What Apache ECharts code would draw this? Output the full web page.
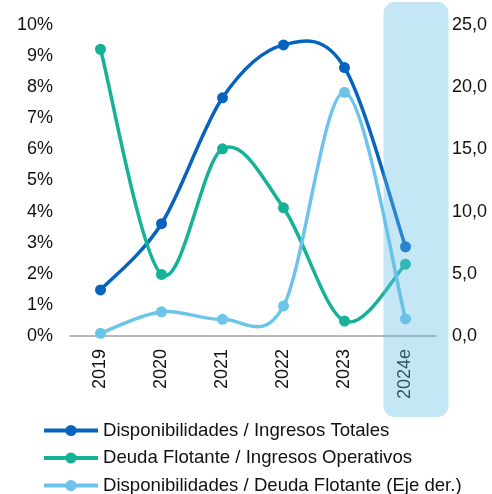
<!DOCTYPE html>
<html><head><meta charset="utf-8">
<script src="https://cdn.jsdelivr.net/npm/echarts@6/dist/echarts.min.js"></script>
<style>html,body{margin:0;padding:0;background:#fff}#c{width:492px;height:494px}</style>
</head><body><div id="c"></div>
<script>
const categories = ['2019','2020','2021','2022','2023','2024e'];
const dispIngTot = [1.48, 3.61, 7.66, 9.36, 8.63, 2.87];
const deudaIngOp = [9.22, 1.98, 6.02, 4.12, 0.48, 2.31];
const dispDeuda = [0.22, 1.95, 1.34, 2.41, 19.59, 1.37];
const seriesNames = ['Disponibilidades / Ingresos Totales','Deuda Flotante / Ingresos Operativos','Disponibilidades / Deuda Flotante (Eje der.)'];
const colors = ['#0663be','#15b298','#6cc4eb'];
const font = 'Liberation Sans, Arial, sans-serif';

const chart = echarts.init(document.getElementById('c'));
function pts(name, data, color, yi){
  return {name, type:'line', data, yAxisIndex: yi, symbol:'circle', symbolSize: 11,
    lineStyle:{width:3.5,color,opacity:0}, itemStyle:{color}, z: 4};
}
// Catmull-Rom smoothed segments drawn through the axes' scales
function curve(data, color, yi){
  return {type:'custom', yAxisIndex: yi, z: 3, silent:true,
    data: data.map((v,i)=>[i,v]),
    renderItem(params, api){
      const i = params.dataIndex, n = data.length;
      if (i >= n-1) return null;
      const P = k => api.coord([Math.max(0,Math.min(n-1,k)), data[Math.max(0,Math.min(n-1,k))]]);
      const p0 = P(i-1), p1 = P(i), p2 = P(i+1), p3 = P(i+2);
      const t = 1/6;
      const c1 = [p1[0]+(p2[0]-p0[0])*t, p1[1]+(p2[1]-p0[1])*t];
      const c2 = [p2[0]-(p3[0]-p1[0])*t, p2[1]-(p3[1]-p1[1])*t];
      return {type:'bezierCurve', shape:{x1:p1[0],y1:p1[1],x2:p2[0],y2:p2[1],cpx1:c1[0],cpy1:c1[1],cpx2:c2[0],cpy2:c2[1]},
        style:{stroke:color,lineWidth:3.5,fill:null,lineCap:'round'}};
    }};
}
chart.setOption({
  animation:false,
  color: colors,
  grid:{left:70,right:56,top:25,bottom:158,containLabel:false},
  xAxis:{type:'category',data:categories,boundaryGap:true,
    axisLine:{lineStyle:{color:'#a0a0a0',width:1.5}},axisTick:{show:false},
    axisLabel:{rotate:90,margin:13,color:'#111',fontFamily:font,fontSize:18}},
  yAxis:[
    {type:'value',min:0,max:10,interval:1,splitLine:{show:false},axisLine:{show:false},axisTick:{show:false},
     axisLabel:{formatter:'{value}%',margin:17,color:'#111',fontFamily:font,fontSize:18}},
    {type:'value',min:0,max:25,interval:5,splitLine:{show:false},axisLine:{show:false},axisTick:{show:false},
     axisLabel:{formatter:v=>v.toFixed(1).replace('.',','),margin:16,color:'#111',fontFamily:font,fontSize:18}}
  ],
  legend:{orient:'vertical',left:42,top:421,height:120,padding:0,itemWidth:54,itemHeight:14,itemGap:8.5,
    lineStyle:{opacity:1,width:4},
    textStyle:{fontFamily:font,fontSize:18.6,color:'#111',lineHeight:18},
    data:seriesNames},
  series:[
    curve(dispIngTot,colors[0],0),curve(deudaIngOp,colors[1],0),curve(dispDeuda,colors[2],1),
    pts(seriesNames[0],dispIngTot,colors[0],0),pts(seriesNames[1],deudaIngOp,colors[1],0),pts(seriesNames[2],dispDeuda,colors[2],1)]
});
const cx = chart.convertToPixel({xAxisIndex:0}, categories[5]);
chart.setOption({graphic:[{type:'rect',z:100,silent:true,
  shape:{x:cx-22,y:2,width:65,height:415,r:11},
  style:{fill:'rgba(100,190,230,0.38)'}}]});
</script></body></html>
